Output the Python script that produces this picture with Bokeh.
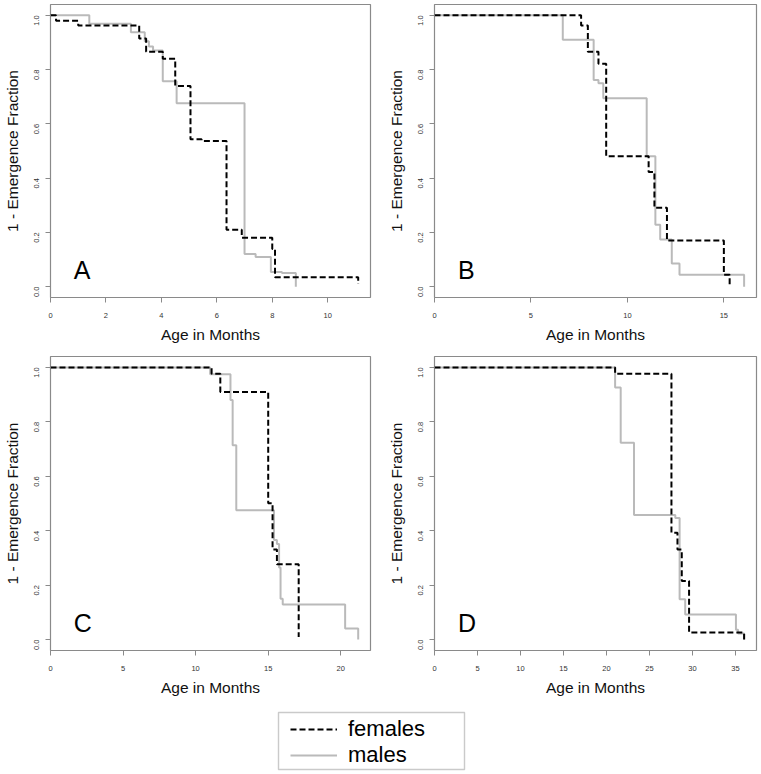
import math
from bokeh.plotting import figure
from bokeh.layouts import column, row
from bokeh.models import FixedTicker, PrintfTickFormatter, Label, Legend, LegendItem, Range1d, BoxAnnotation
from bokeh.embed import file_html
from bokeh.resources import INLINE

# ---------------- data ----------------
# Panel A
a_f_t = [0, 0.2, 1.0, 3.2, 3.45, 4.05, 4.5, 5.05, 5.45, 6.35, 6.9, 8.0, 8.1, 11.1]
a_f_s = [1.0, 0.98, 0.963, 0.915, 0.866, 0.84, 0.74, 0.543, 0.537, 0.21, 0.18, 0.139, 0.035, 0.01]
a_m_t = [0, 1.4, 2.9, 3.4, 3.55, 3.7, 4.05, 4.55, 7.0, 7.4, 7.95, 8.35, 8.85]
a_m_s = [1.0, 0.969, 0.938, 0.905, 0.885, 0.87, 0.757, 0.676, 0.12, 0.109, 0.054, 0.05, 0.0]
# Panel B
b_f_t = [0, 7.6, 7.95, 8.5, 8.9, 11.1, 11.4, 12.05, 15.0, 15.3]
b_f_s = [1.0, 0.963, 0.866, 0.822, 0.481, 0.423, 0.291, 0.17, 0.044, 0.0]
b_m_t = [0, 6.65, 8.25, 8.5, 8.75, 11.0, 11.45, 11.7, 12.3, 12.7, 16.05]
b_m_s = [1.0, 0.91, 0.762, 0.75, 0.694, 0.481, 0.228, 0.174, 0.085, 0.044, 0.0]
# Panel C
c_f_t = [0, 11.1, 11.7, 15.0, 15.3, 15.6, 17.1]
c_f_s = [1.0, 0.977, 0.91, 0.501, 0.331, 0.277, 0.01]
c_m_t = [0, 11.0, 12.4, 12.55, 12.8, 15.4, 15.6, 15.75, 15.85, 16.0, 20.3, 21.2]
c_m_s = [1.0, 0.975, 0.88, 0.714, 0.475, 0.366, 0.351, 0.265, 0.15, 0.129, 0.041, 0.0]
# Panel D
d_f_t = [0, 21.0, 27.55, 28.25, 28.75, 29.6, 36.0]
d_f_s = [1.0, 0.977, 0.393, 0.331, 0.215, 0.026, 0.0]
d_m_t = [0, 21.0, 21.65, 23.2, 28.0, 28.5, 29.15, 35.05, 35.3, 36.0]
d_m_s = [1.0, 0.926, 0.723, 0.458, 0.447, 0.148, 0.092, 0.036, 0.022, 0.0]

x_ticks_a = [0, 2, 4, 6, 8, 10]
x_ticks_b = [0, 5, 10, 15]
x_ticks_c = [0, 5, 10, 15, 20]
x_ticks_d = [0, 5, 10, 15, 20, 25, 30, 35]
y_ticks = [0.0, 0.2, 0.4, 0.6, 0.8, 1.0]
panel_letters = ["A", "B", "C", "D"]
series_names = ["females", "males"]

FONT = "Liberation Sans"
FRAME = "#8a8a8a"
GRAY = "#bababa"


def panel(letter, ft, fs, mt, ms, xticks, width, height, bl, br, bt, bb):
    xmax = max(max(ft), max(mt)) * 1.04
    p = figure(width=width, height=height, output_backend="svg", toolbar_location=None,
               x_range=Range1d(0, xmax), y_range=Range1d(-0.04, 1.04),
               min_border_left=bl, min_border_right=br, min_border_top=bt, min_border_bottom=bb)
    p.grid.visible = False
    p.background_fill_color = "white"
    p.border_fill_color = "white"
    p.outline_line_color = FRAME
    p.outline_line_width = 1.2
    for ax in (p.xaxis[0], p.yaxis[0]):
        ax.axis_line_color = None
        ax.major_tick_line_color = FRAME
        ax.major_tick_out = 5
        ax.major_tick_in = 0
        ax.minor_tick_line_color = None
        ax.major_label_text_font = FONT
        ax.major_label_text_font_size = "7.5px"
        ax.major_label_text_color = "#333333"
        ax.axis_label_text_font = FONT
        ax.axis_label_text_font_size = "15.5px"
        ax.axis_label_text_font_style = "normal"
        ax.axis_label_text_color = "#111111"
    p.xaxis.major_label_standoff = 10
    p.xaxis.axis_label_standoff = 5
    p.yaxis.major_label_standoff = 9
    p.yaxis.axis_label_standoff = 8
    p.xaxis.ticker = FixedTicker(ticks=xticks)
    p.yaxis.ticker = FixedTicker(ticks=y_ticks)
    p.yaxis.formatter = PrintfTickFormatter(format="%.1f")
    p.yaxis.major_label_orientation = math.pi / 2
    p.xaxis.axis_label = "Age in Months"
    p.yaxis.axis_label = "1 - Emergence Fraction"

    p.step(x=mt, y=ms, mode="after", line_color=GRAY, line_width=2)
    p.step(x=ft, y=fs, mode="after", line_color="black", line_width=2, line_dash="6 3")

    p.add_layout(Label(x=0.073 * xmax, y=0.008, text=letter, text_font=FONT,
                       text_font_size="25px", text_color="black", text_baseline="bottom"))
    return p


pA = panel(panel_letters[0], a_f_t, a_f_s, a_m_t, a_m_s, x_ticks_a, 380, 350, 49, 10, 4, 53)
pB = panel(panel_letters[1], b_f_t, b_f_s, b_m_t, b_m_s, x_ticks_b, 381, 350, 54, 5, 4, 53)
pC = panel(panel_letters[2], c_f_t, c_f_s, c_m_t, c_m_s, x_ticks_c, 380, 353, 49, 10, 6, 53)
pD = panel(panel_letters[3], d_f_t, d_f_s, d_m_t, d_m_s, x_ticks_d, 381, 353, 54, 5, 6, 53)

# legend figure (data units equal pixels here)
LW, LH = 761, 71
pL = figure(width=LW, height=LH, output_backend="svg", toolbar_location=None,
            x_range=Range1d(0, LW), y_range=Range1d(0, LH),
            min_border=0, min_border_left=0, min_border_right=0, min_border_top=0, min_border_bottom=0)
pL.axis.visible = False
pL.grid.visible = False
pL.outline_line_color = None
pL.background_fill_color = "white"
rf = pL.line(x=[-20, -10], y=[-20, -20], line_color="black", line_width=2, line_dash="6 3")
rm = pL.line(x=[-20, -10], y=[-20, -20], line_color=GRAY, line_width=2)
leg = Legend(items=[LegendItem(label=series_names[0], renderers=[rf]),
                    LegendItem(label=series_names[1], renderers=[rm])],
             location=(290, 6), orientation="vertical",
             glyph_width=47, glyph_height=20, label_height=20,
             label_standoff=11, spacing=0, padding=5, margin=0,
             label_text_font=FONT, label_text_font_size="22px", label_text_color="black",
             label_text_baseline="middle",
             border_line_color=None, background_fill_alpha=0.0)
pL.add_layout(leg, "center")
pL.add_layout(BoxAnnotation(left=278, right=464, bottom=5, top=62,
                            fill_alpha=0.0, line_color="#505050", line_width=1.4))

layout = column(row(pA, pB), row(pC, pD), pL)

open("out.html", "w").write(file_html(layout, INLINE))
